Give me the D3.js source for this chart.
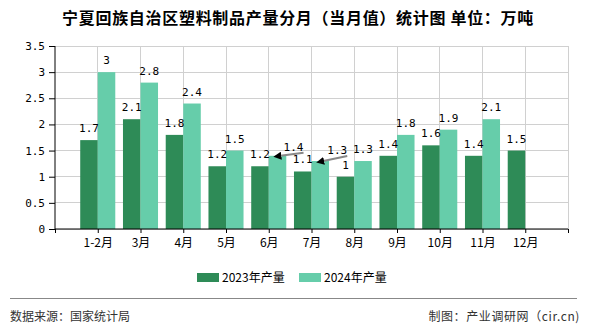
<!DOCTYPE html>
<html><head><meta charset="utf-8">
<script src="https://cdn.jsdelivr.net/npm/d3@7/dist/d3.min.js"></script>
<style>
body{margin:0;background:#fff;}
svg{display:block;}
</style></head>
<body>
<svg id="c" width="590" height="330"></svg>
<script>
const title = "宁夏回族自治区塑料制品产量分月（当月值）统计图 单位：万吨";
const categories = ["1-2月","3月","4月","5月","6月","7月","8月","9月","10月","11月","12月"];
const series2023 = [1.7,2.1,1.8,1.2,1.2,1.1,1,1.4,1.6,1.4,1.5];
const series2024 = [3,2.8,2.4,1.5,1.4,1.3,1.3,1.8,1.9,2.1,null];
const seriesNames = ["2023年产量","2024年产量"];
const colors = ["#2e8b57","#66cdaa"];
const yTicks = [0,0.5,1,1.5,2,2.5,3,3.5];
const sourceText = "数据来源：国家统计局";
const creditText = "制图：产业调研网（cir.cn)";

const svg = d3.select("#c");
const pL = 55, pR = 568, pT = 46, pB = 229;
const x = d3.scalePoint().domain(["__s", ...categories, "__e"]).range([pL, pR]);
const y = d3.scaleLinear().domain([0, 3.5]).range([pB, pT]);
const bw = x.step() * 0.41;

// title
svg.append("text").attr("x", 298).attr("y", 24).attr("text-anchor", "middle")
  .style("font-family", "'Noto Sans CJK SC'").style("font-size", "16px").style("font-weight", "bold")
  .style("letter-spacing", "0.7px").attr("fill", "#000").text(title);

// grid
const g = svg.append("g");
g.selectAll(".hg").data(yTicks).enter().append("line")
  .attr("x1", pL).attr("x2", pR).attr("y1", d => y(d)).attr("y2", d => y(d))
  .attr("stroke", "#d0d0d0").attr("stroke-width", 1).attr("shape-rendering", "crispEdges");
g.selectAll(".vg").data(x.domain().slice(1)).enter().append("line")
  .attr("x1", d => x(d)).attr("x2", d => x(d)).attr("y1", pT).attr("y2", pB)
  .attr("stroke", "#d0d0d0").attr("stroke-width", 1).attr("shape-rendering", "crispEdges");

// bars
categories.forEach((c, i) => {
  const cx = x(c);
  if (series2023[i] != null)
    svg.append("rect").attr("x", cx - bw).attr("y", y(series2023[i])).attr("width", bw)
      .attr("height", pB - y(series2023[i])).attr("fill", colors[0]);
  if (series2024[i] != null)
    svg.append("rect").attr("x", cx).attr("y", y(series2024[i])).attr("width", bw)
      .attr("height", pB - y(series2024[i])).attr("fill", colors[1]);
});

// axes
const yAxis = d3.axisLeft(y).tickValues(yTicks).tickFormat(d => String(d)).tickSize(6).tickPadding(4);
const ya = svg.append("g").attr("transform", `translate(${pL},0)`).call(yAxis);
ya.select(".domain").attr("stroke", "#000").attr("d", `M0,${pB}V${pT}`);
ya.selectAll(".tick line").attr("stroke", "#000");
ya.selectAll("text").style("font-family", "'DejaVu Sans Mono'").style("font-size", "11px").attr("fill", "#000");

const xAxis = d3.axisBottom(x).tickSize(4).tickPadding(3).tickFormat(d => d.startsWith("__") ? "" : d);
const xa = svg.append("g").attr("transform", `translate(0,${pB})`).call(xAxis);
xa.select(".domain").attr("stroke", "#000").attr("d", `M${pL},0H${pR}`);
xa.selectAll(".tick line").attr("stroke", "#000");
xa.selectAll("text").style("font-family", "'Noto Sans CJK SC'").style("font-size", "12px").attr("fill", "#000").attr("dy", "0.9em");

// value labels
const lblFont = s => s.style("font-family", "'DejaVu Sans Mono'").style("font-size", "11px").attr("fill", "#000").attr("text-anchor", "middle");
const displaced = { "1|4": [16, -9], "1|5": [17, -11] };
const defs = svg.append("defs");
defs.append("marker").attr("id", "arr").attr("viewBox", "0 0 10 10").attr("refX", 1).attr("refY", 5)
  .attr("markerWidth", 4).attr("markerHeight", 4).attr("orient", "auto-start-reverse")
  .append("path").attr("d", "M10,5L0,0L0,10Z").attr("fill", "#000");

[series2023, series2024].forEach((s, k) => {
  s.forEach((v, i) => {
    if (v == null) return;
    const cx = x(categories[i]) + (k === 0 ? -bw / 2 : bw / 2);
    const ty = y(v);
    const key = k + "|" + i;
    if (displaced[key]) {
      const [dx, dy] = displaced[key];
      svg.append("line").attr("x1", cx + 3).attr("y1", ty).attr("x2", cx + dx + 10).attr("y2", ty + dy + 6)
        .attr("stroke", "#888").attr("stroke-width", 2).attr("marker-start", "url(#arr)");
      svg.append("text").attr("x", cx + dx).attr("y", ty + dy + 4).call(lblFont).text(v);
    } else {
      svg.append("text").attr("x", cx).attr("y", ty - 8).call(lblFont).text(v);
    }
  });
});

// legend
const leg = svg.append("g");
const lx = [197, 299];
seriesNames.forEach((n, i) => {
  leg.append("rect").attr("x", lx[i]).attr("y", 273).attr("width", 22).attr("height", 9).attr("fill", colors[i]);
  leg.append("text").attr("x", lx[i] + 25).attr("y", 282).style("font-family", "'Noto Sans CJK SC'")
    .style("font-size", "12px").attr("fill", "#000").text(n);
});

// footer
svg.append("line").attr("x1", 10).attr("x2", 577).attr("y1", 298.5).attr("y2", 298.5).attr("stroke", "#888").attr("stroke-width", 1);
svg.append("text").attr("x", 10).attr("y", 321).style("font-family", "'Noto Sans CJK SC'").style("font-size", "12px").attr("fill", "#333").text(sourceText);
svg.append("text").attr("x", 580).attr("y", 321).attr("text-anchor", "end").style("font-family", "'Noto Sans CJK SC'").style("font-size", "12px")
  .style("letter-spacing", "0.6px").attr("fill", "#333").text(creditText);
</script>
</body></html>
